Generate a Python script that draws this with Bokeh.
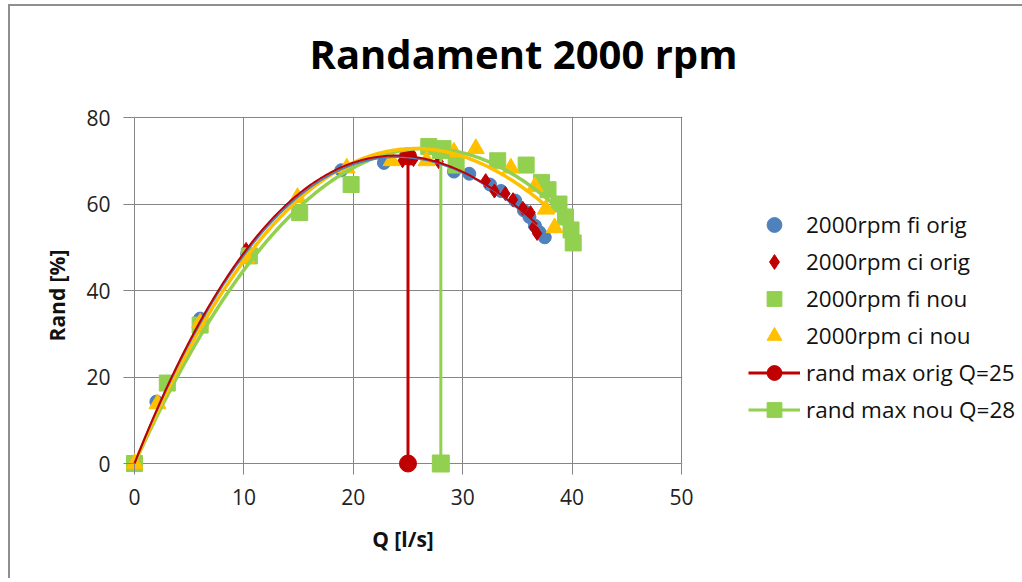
import numpy as np
from bokeh.plotting import figure
from bokeh.models import Range1d, SingleIntervalTicker, Legend, LegendItem, Title
from bokeh.embed import file_html
from bokeh.resources import INLINE

# ---- data ----
fi_orig_q = [0, 2.0, 6.0, 10.3, 18.9, 22.8, 25.2, 29.2, 30.6, 32.5, 33.5, 34.8, 35.6, 36.1, 36.6, 37.0, 37.5]
fi_orig_r = [0, 14.3, 33.5, 48.5, 67.8, 69.5, 70.5, 67.5, 67.0, 64.5, 63.0, 60.8, 58.5, 57.0, 55.0, 53.5, 52.3]

ci_orig_q = [0, 2.1, 6.0, 10.2, 24.5, 25.5, 27.8, 32.1, 32.9, 33.9, 34.6, 35.5, 36.2, 36.5, 36.8]
ci_orig_r = [0, 14.0, 33.0, 49.5, 70.0, 70.3, 69.8, 65.4, 63.0, 62.4, 61.0, 59.0, 58.0, 54.6, 53.2]

fi_nou_q = [0, 3.0, 6.0, 10.5, 15.1, 19.8, 26.9, 28.2, 29.4, 33.2, 35.8, 37.2, 37.8, 38.8, 39.4, 39.9, 40.1]
fi_nou_r = [0, 18.6, 32.0, 48.0, 58.0, 64.5, 73.3, 72.8, 69.0, 70.0, 69.0, 65.0, 63.3, 60.0, 57.0, 54.0, 51.0]

ci_nou_q = [0, 2.1, 6.0, 10.2, 14.9, 19.4, 23.5, 26.7, 29.2, 31.2, 34.4, 36.6, 37.6, 38.4]
ci_nou_r = [0, 13.8, 32.5, 47.5, 61.5, 68.3, 70.0, 70.0, 72.0, 72.8, 68.3, 64.0, 58.8, 54.5]

max_orig_q = [25, 25]
max_orig_r = [0, 71.0]
max_nou_q = [28, 28]
max_nou_r = [0, 72.5]

x_axis_min, x_axis_max, x_tick_step = 0, 50, 10
y_axis_min, y_axis_max, y_tick_step = 0, 80, 20

BLUE = "#4F81BD"
RED = "#C00000"
GREEN = "#92D050"
YELLOW = "#FFC000"
GRID = "#868686"
FONT = "Open Sans"

# ---- layout (pixels) ----
PX_X = 547 / 50
PX_Y = 346 / 80
x_start, x_end = -11 / PX_X, 548 / PX_X
y_start, y_end = -11 / PX_Y, 347 / PX_Y

p = figure(frame_width=559, frame_height=358,
           min_border_left=113, min_border_right=338,
           min_border_top=110, min_border_bottom=104,
           x_range=Range1d(x_start, x_end), y_range=Range1d(y_start, y_end),
           output_backend="svg", toolbar_location=None,
           title="Randament 2000 rpm")
p.styles = {"margin-left": "8px", "margin-top": "4px",
            "border-left": "2px solid #8f8f8f", "border-top": "2px solid #8f8f8f"}
p.outline_line_color = None
p.background_fill_color = "white"
p.border_fill_color = "white"

# spacer between the frame and the title
p.add_layout(Title(text=" ", text_font_size="1px", standoff=28), "above")

p.title.text_font = FONT
p.title.text_font_size = "40px"
p.title.text_font_style = "bold"
p.title.text_color = "black"
p.title.align = "left"
p.title.vertical_align = "bottom"
p.title.offset = 186
p.title.standoff = 10

for ax in (p.xaxis[0], p.yaxis[0]):
    ax.axis_line_color = None
    ax.major_tick_line_color = GRID
    ax.minor_tick_line_color = None
    ax.major_tick_in = 11
    ax.major_tick_out = 0
    ax.major_label_text_font = FONT
    ax.major_label_text_font_size = "21px"
    ax.major_label_text_color = "#222222"
    ax.axis_label_text_font = FONT
    ax.axis_label_text_font_size = "21px"
    ax.axis_label_text_font_style = "bold"
    ax.axis_label_text_color = "#111111"

p.xaxis[0].ticker = SingleIntervalTicker(interval=x_tick_step, num_minor_ticks=0)
p.yaxis[0].ticker = SingleIntervalTicker(interval=y_tick_step, num_minor_ticks=0)
p.xaxis[0].axis_label = "Q [l/s]"
p.yaxis[0].axis_label = "Rand [%]"
p.xaxis[0].major_label_standoff = 14
p.yaxis[0].major_label_standoff = 13
p.xaxis[0].axis_label_standoff = 17
p.yaxis[0].axis_label_standoff = 12

p.xgrid.ticker = SingleIntervalTicker(interval=x_tick_step, num_minor_ticks=0)
p.ygrid.ticker = SingleIntervalTicker(interval=y_tick_step, num_minor_ticks=0)
for g in (p.xgrid[0], p.ygrid[0]):
    g.grid_line_color = GRID
    g.grid_line_width = 1

# white masks so grid lines stop at the axes (keeps markers at the origin unclipped)
p.quad(left=[x_start], right=[x_axis_min], bottom=[y_start], top=[y_end], fill_color="white", line_color=None)
p.quad(left=[x_start], right=[x_end], bottom=[y_start], top=[y_axis_min], fill_color="white", line_color=None)
# axis lines
p.segment(x0=[x_axis_min, x_axis_min], y0=[y_axis_min, y_axis_min],
          x1=[x_axis_max, x_axis_min], y1=[y_axis_min, y_axis_max],
          line_color=GRID, line_width=1)

# ---- scatter series ----
r_fi_orig = p.scatter(fi_orig_q, fi_orig_r, marker="circle", size=13, fill_color=BLUE, line_color=BLUE)
r_ci_orig = p.scatter(ci_orig_q, ci_orig_r, marker="diamond", size=14, fill_color=RED, line_color=RED)
r_fi_nou = p.scatter(fi_nou_q, fi_nou_r, marker="square", size=16, fill_color=GREEN, line_color=GREEN)
r_ci_nou = p.scatter(ci_nou_q, ci_nou_r, marker="triangle", size=17, fill_color=YELLOW, line_color=YELLOW)

# ---- max lines ----
l_orig = p.line(max_orig_q, max_orig_r, line_color=RED, line_width=3)
m_orig = p.scatter(max_orig_q, max_orig_r, marker="circle", size=17, fill_color=RED, line_color=RED)
l_nou = p.line(max_nou_q, max_nou_r, line_color=GREEN, line_width=3)
m_nou = p.scatter(max_nou_q, max_nou_r, marker="square", size=17, fill_color=GREEN, line_color=GREEN)

# ---- polynomial trendlines (order 3, intercept fixed at 0, fitted to each series) ----
def trend(q, r, color, width):
    q = np.asarray(q, float)
    r = np.asarray(r, float)
    A = np.column_stack([q, q ** 2, q ** 3])
    coef, *_ = np.linalg.lstsq(A, r, rcond=None)
    xs = np.linspace(q.min(), q.max(), 200)
    ys = coef[0] * xs + coef[1] * xs ** 2 + coef[2] * xs ** 3
    p.line(xs, ys, line_color=color, line_width=width)

trend(fi_nou_q, fi_nou_r, GREEN, 3.5)
trend(ci_nou_q, ci_nou_r, YELLOW, 3.5)
trend(fi_orig_q, fi_orig_r, BLUE, 2)
trend(ci_orig_q, ci_orig_r, RED, 2)

# ---- legend ----
legend = Legend(items=[
    LegendItem(label="2000rpm fi orig", renderers=[r_fi_orig]),
    LegendItem(label="2000rpm ci orig", renderers=[r_ci_orig]),
    LegendItem(label="2000rpm fi nou", renderers=[r_fi_nou]),
    LegendItem(label="2000rpm ci nou", renderers=[r_ci_nou]),
    LegendItem(label="rand max orig Q=25", renderers=[l_orig, m_orig]),
    LegendItem(label="rand max nou Q=28", renderers=[l_nou, m_nou]),
], location=(66, 46))
legend.glyph_width = 52
legend.glyph_height = 37
legend.label_height = 37
legend.spacing = 0
legend.padding = 0
legend.margin = 0
legend.label_standoff = 6
legend.border_line_color = None
legend.background_fill_alpha = 0
legend.label_text_font = FONT
legend.label_text_font_size = "22.5px"
legend.label_text_color = "#111111"
p.add_layout(legend, "right")

open("out.html", "w").write(file_html(p, INLINE))
